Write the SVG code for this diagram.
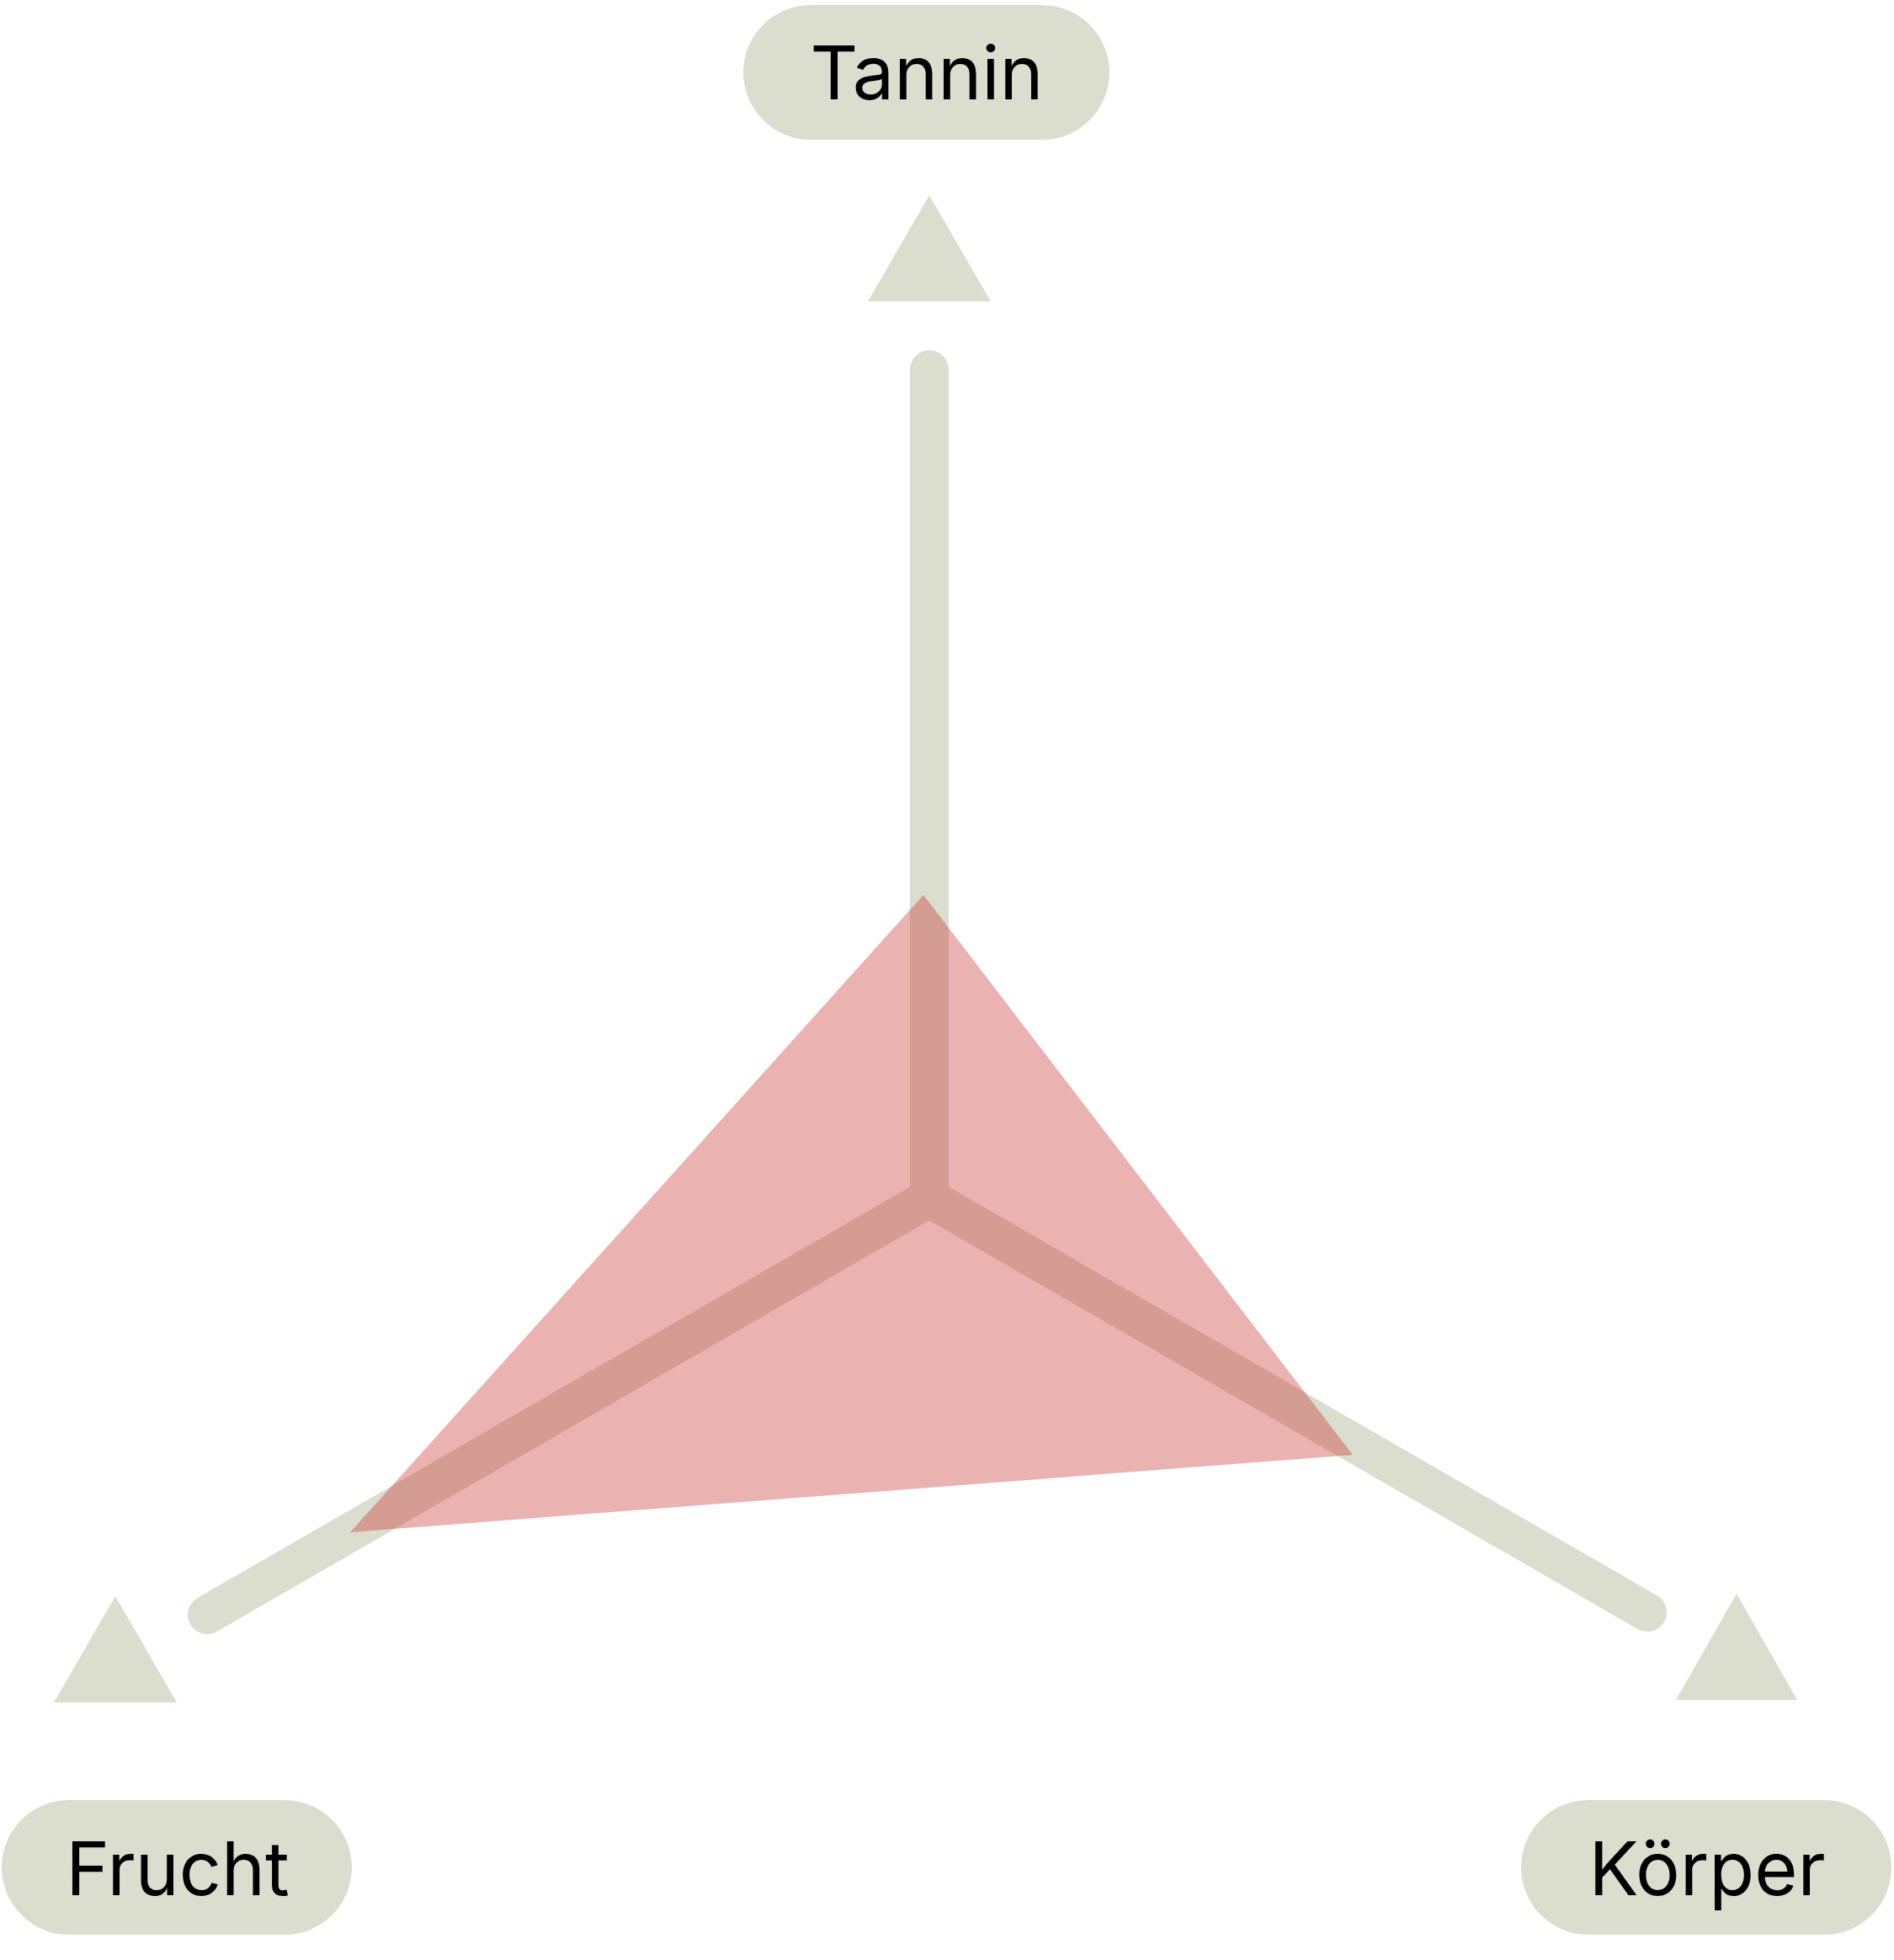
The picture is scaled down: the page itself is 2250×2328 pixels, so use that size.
<svg xmlns="http://www.w3.org/2000/svg" width="2250" height="2328" viewBox="0 0 2250 2328">
<style>
.pill{fill:#dbddcf}
.tri{fill:#dbddcf}
.lbl{font-family:Inter,"Open Sans",sans-serif;font-size:88px;fill:#000;text-anchor:middle}
.ax{stroke:#dbddcf;stroke-width:46;stroke-linecap:round;stroke-linejoin:miter;fill:none}
</style>
<rect width="2250" height="2328" fill="#fff"/>
<g id="connectors">
<path class="ax" d="M1104 439 V1423 L246 1918 M1104 1423 L1957 1915"/>
</g>
<g id="data">
<polygon points="1097,1063 1607,1728 416,1820" fill="#c72929" fill-opacity="0.36"/>
</g>
<g id="tannin">
<rect class="pill" x="883" y="6" width="435" height="160" rx="80"/>
<text class="lbl" x="1101" y="118">Tannin</text>
<polygon class="tri" points="1104,232 1177,358 1031,358"/>
</g>
<g id="frucht">
<rect class="pill" x="2" y="2138" width="416" height="160" rx="80"/>
<text class="lbl" x="211" y="2251">Frucht</text>
<polygon class="tri" points="137,1896 210,2022 64,2022"/>
</g>
<g id="koerper">
<rect class="pill" x="1807" y="2138" width="440" height="160" rx="80"/>
<text class="lbl" x="2028" y="2251">Körper</text>
<polygon class="tri" points="2063,1893 2135,2019 1991,2019"/>
</g>
</svg>
